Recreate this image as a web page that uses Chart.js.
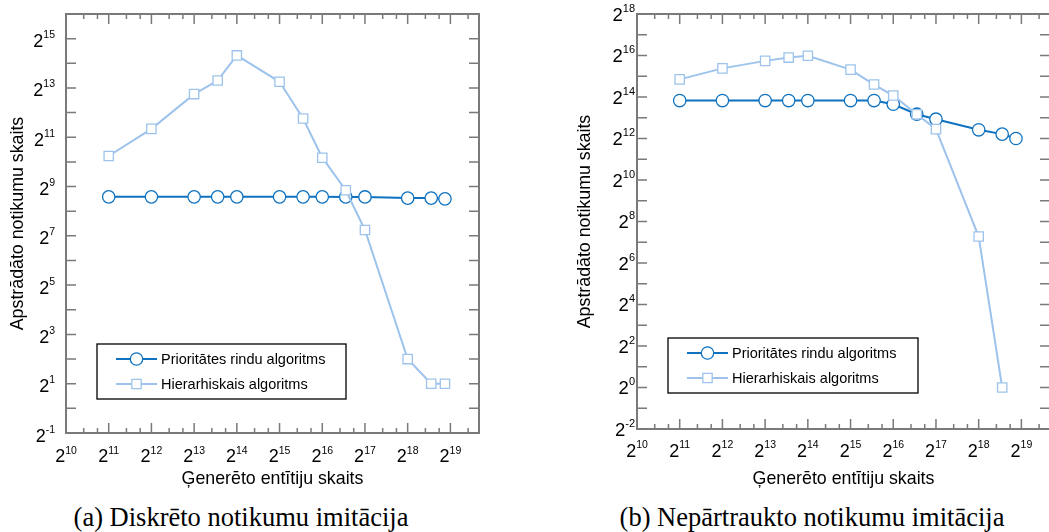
<!DOCTYPE html>
<html>
<head>
<meta charset="utf-8">
<script src="https://cdn.jsdelivr.net/npm/chart.js@4.4.1/dist/chart.umd.min.js"></script>
<style>
body { margin: 0; width: 1049px; height: 532px; overflow: hidden; background: #fff; position: relative; }
canvas { position: absolute; top: 0; }
.cap { position: absolute; font-family: "Liberation Serif", "Times New Roman", serif; font-size: 26.5px; line-height: 30px; white-space: nowrap; transform: translateX(-50%); color: #000; }
</style>
</head>
<body>
<canvas id="chartA" width="530" height="490" style="left:0"></canvas>
<canvas id="chartB" width="500" height="490" style="left:570px"></canvas>
<div class="cap" style="left:241px;top:502px">(a) Diskrēto notikumu imitācija</div>
<div class="cap" style="left:812px;top:502px">(b) Nepārtraukto notikumu imitācija</div>
<script>
// entity counts (x)
var entitiesA = [2048, 4096, 8192, 12000, 16384, 32768, 48000, 65536, 96000, 131072, 262144, 384000, 480000];
var priorityA = [383, 383, 383, 383, 383, 383, 383, 383, 382, 382, 370, 370, 362];
var hierarchyA = [1209, 2592, 6889, 10085, 20450, 9741, 3468, 1152, 461, 151, 4, 2, 2];

var entitiesB = [2048, 4096, 8192, 12000, 16384, 32768, 48000, 65536, 96000, 131072, 262144, 384000, 480000];
var priorityB = [14560, 14560, 14560, 14560, 14560, 14560, 14560, 12850, 9220, 7800, 5480, 4740, 4096];
var hierarchyB = [29520, 42640, 54760, 61150, 65080, 40900, 24830, 17210, 9220, 5600, 155, 1, null];

// tick exponents (labels are 2^n)
var xTickExps = [10, 11, 12, 13, 14, 15, 16, 17, 18, 19];
var xMinorFactors = [4 / 3, 5 / 3];
var yLabelExpsA = [-1, 1, 3, 5, 7, 9, 11, 13, 15];
var yLabelExpsB = [-2, 0, 2, 4, 6, 8, 10, 12, 14, 16, 18];

var seriesNames = ['Prioritātes rindu algoritms', 'Hierarhiskais algoritms'];
var xTitle = 'Ģenerēto entītiju skaits';
var yTitle = 'Apstrādāto notikumu skaits';

var darkBlue = '#0e72c0';
var lightBlue = '#9dc3ec';
var axisGray = '#7a7a7a';
var sans = '"Liberation Sans", Arial, Helvetica, sans-serif';

function points(xs, ys) {
    var out = [];
    for (var i = 0; i < xs.length; i++) {
        out.push({x: xs[i], y: ys[i]});
    }
    return out;
}

function drawPow(ctx, exp, x, y, align, big, small, raise) {
    var base = '2', sup = String(exp);
    ctx.font = big + 'px ' + sans;
    var wb = ctx.measureText(base).width;
    ctx.font = small + 'px ' + sans;
    var ws = ctx.measureText(sup).width;
    var left = align === 'center' ? x - (wb + ws) / 2 : x - (wb + ws);
    ctx.textAlign = 'left';
    ctx.textBaseline = 'alphabetic';
    ctx.fillStyle = '#000';
    ctx.font = big + 'px ' + sans;
    ctx.fillText(base, left, y);
    ctx.font = small + 'px ' + sans;
    ctx.fillText(sup, left + wb, y - raise);
}

// draws the MATLAB-like frame, ticks, labels, titles and legend
var framePlugin = {
    id: 'frame',
    afterDraw: function(chart, args, opts) {
        var ctx = chart.ctx;
        var a = chart.chartArea;
        var xs = chart.scales.x, ys = chart.scales.y;
        ctx.save();

        ctx.strokeStyle = axisGray;
        ctx.lineWidth = 1.5;
        ctx.beginPath();
        // x ticks (top and bottom, pointing inward)
        xTickExps.forEach(function(e) {
            var v = Math.pow(2, e);
            var px = xs.getPixelForValue(v);
            if (px > a.left + 1 && px < a.right - 1) {
                ctx.moveTo(px, a.bottom); ctx.lineTo(px, a.bottom - 10);
                ctx.moveTo(px, a.top); ctx.lineTo(px, a.top + 10);
            }
            xMinorFactors.forEach(function(f) {
                var mx = xs.getPixelForValue(v * f);
                if (mx > a.left + 1 && mx < a.right - 1) {
                    ctx.moveTo(mx, a.bottom); ctx.lineTo(mx, a.bottom - 5);
                    ctx.moveTo(mx, a.top); ctx.lineTo(mx, a.top + 5);
                }
            });
        });
        // y ticks every octave
        for (var e = opts.yMinExp + 1; e < opts.yMaxExp; e++) {
            var py = ys.getPixelForValue(Math.pow(2, e));
            ctx.moveTo(a.left, py); ctx.lineTo(a.left + 10, py);
            ctx.moveTo(a.right, py); ctx.lineTo(a.right - 10, py);
        }
        ctx.stroke();
        ctx.lineWidth = 2;
        ctx.strokeRect(a.left, a.top, a.right - a.left, a.bottom - a.top);

        // tick labels
        xTickExps.forEach(function(e) {
            var px = xs.getPixelForValue(Math.pow(2, e));
            drawPow(ctx, e, px, a.bottom + opts.xLabelDy, 'center', 18, 10.5, 8.5);
        });
        opts.yLabels.forEach(function(e) {
            var py = ys.getPixelForValue(Math.pow(2, e));
            drawPow(ctx, e, a.left - opts.yLabelGap, py + opts.yLabelDy, 'right', opts.yBig, opts.ySmall, 9);
        });

        // axis titles
        ctx.fillStyle = '#000';
        ctx.font = '17.8px ' + sans;
        ctx.textAlign = 'center';
        ctx.textBaseline = 'middle';
        ctx.fillText(xTitle, (a.left + a.right) / 2, opts.xTitleY);
        ctx.save();
        ctx.translate(opts.yTitleX, (a.top + a.bottom) / 2);
        ctx.rotate(-Math.PI / 2);
        ctx.fillText(yTitle, 0, 0);
        ctx.restore();

        // legend (datasets are stored top-drawn first, so list them backwards)
        var L = opts.legend;
        ctx.fillStyle = '#fff';
        ctx.fillRect(L.x, L.y, L.w, L.h);
        ctx.strokeStyle = '#000';
        ctx.lineWidth = 1.3;
        ctx.strokeRect(L.x, L.y, L.w, L.h);
        var list = chart.data.datasets.slice().reverse();
        list.forEach(function(ds, i) {
            var ry = L.y + 15 + i * 25;
            ctx.strokeStyle = ds.borderColor;
            ctx.lineWidth = ds.borderWidth;
            ctx.beginPath();
            ctx.moveTo(L.x + 19, ry); ctx.lineTo(L.x + 60, ry);
            ctx.stroke();
            ctx.fillStyle = '#fff';
            ctx.strokeStyle = ds.pointBorderColor;
            ctx.lineWidth = ds.pointBorderWidth;
            Chart.helpers.drawPoint(ctx, {pointStyle: ds.pointStyle, radius: ds.pointRadius, borderWidth: ds.pointBorderWidth, rotation: 0}, L.x + 39.5, ry);
            ctx.fillStyle = '#000';
            ctx.font = '14.5px ' + sans;
            ctx.textAlign = 'left';
            ctx.textBaseline = 'middle';
            ctx.fillText(ds.label, L.x + 64, ry + 1);
        });
        ctx.restore();
    }
};

function makeChart(id, xs, pq, hr, pad, yMinExp, yMaxExp, frameOpts) {
    frameOpts.yMinExp = yMinExp;
    frameOpts.yMaxExp = yMaxExp;
    return new Chart(document.getElementById(id), {
        type: 'line',
        data: {
            datasets: [
                {
                    label: seriesNames[1],
                    data: points(xs, hr),
                    borderColor: lightBlue,
                    borderWidth: 2,
                    pointStyle: 'rect',
                    pointRadius: 6.6,
                    pointBackgroundColor: '#fff',
                    pointBorderColor: lightBlue,
                    pointBorderWidth: 1.3,
                    order: 0
                },
                {
                    label: seriesNames[0],
                    data: points(xs, pq),
                    borderColor: darkBlue,
                    borderWidth: 2,
                    pointStyle: 'circle',
                    pointRadius: 6.2,
                    pointBackgroundColor: '#fff',
                    pointBorderColor: darkBlue,
                    pointBorderWidth: 1.3,
                    order: 1
                }
            ]
        },
        options: {
            responsive: false,
            animation: false,
            devicePixelRatio: 1,
            layout: { padding: pad },
            scales: {
                x: { type: 'logarithmic', min: 1024, max: Math.pow(2, 19.67), display: false },
                y: { type: 'logarithmic', min: Math.pow(2, yMinExp), max: Math.pow(2, yMaxExp), display: false }
            },
            plugins: {
                legend: { display: false },
                tooltip: { enabled: false },
                frame: frameOpts
            }
        },
        plugins: [framePlugin]
    });
}

var chartA = makeChart('chartA', entitiesA, priorityA, hierarchyA,
    {left: 66, right: 51, top: 14, bottom: 57}, -1, 16,
    {yLabels: yLabelExpsA, yLabelGap: 11, yLabelDy: 8.5, yBig: 18, ySmall: 10.5,
     xLabelDy: 29, xTitleY: 479, yTitleX: 18,
     legend: {x: 97, y: 344, w: 249, h: 55}});

var chartB = makeChart('chartB', entitiesB, priorityB, hierarchyB,
    {left: 67, right: 20, top: 14, bottom: 61}, -2, 18,
    {yLabels: yLabelExpsB, yLabelGap: 2, yLabelDy: 6.5, yBig: 18.5, ySmall: 11,
     xLabelDy: 27.5, xTitleY: 479, yTitleX: 15,
     legend: {x: 98, y: 338, w: 250, h: 55}});
</script>
</body>
</html>
